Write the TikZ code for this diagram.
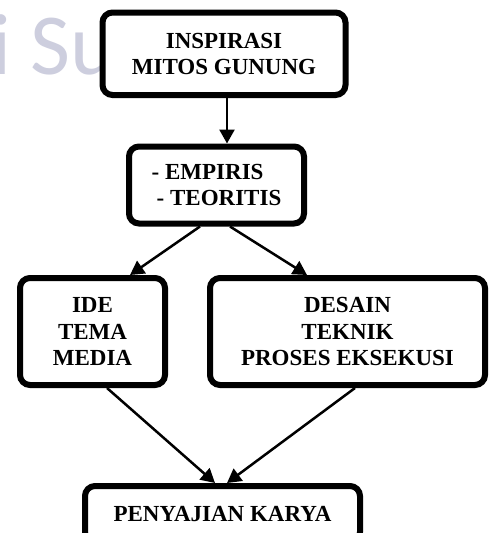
\documentclass[tikz,border=0pt]{standalone}
\usepackage{fontspec}
\setmainfont{Liberation Serif}
\newfontfamily\wmfont{Carlito}
\usetikzlibrary{arrows.meta}
\definecolor{wmgray}{RGB}{205,206,222}
\tikzset{
  boxstyle/.style={draw=black, fill=white, line width=6pt, rounded corners=10pt,
    inner sep=0pt, outer sep=3pt, align=center,
    font=\fontsize{23}{26.5}\selectfont\bfseries},
  arr/.style={line width=2.5pt, -{Triangle[width=15pt,length=14pt]}}
}
\begin{document}
\begin{tikzpicture}[x=1pt,y=-1pt]
\useasboundingbox (0,0) rectangle (489,533);
\clip (0,0) rectangle (489,533);
\node[anchor=base west, text=wmgray, font=\wmfont\fontsize{87}{87}\selectfont, inner sep=0pt] (wm) at (-9,74) {i Su};
\node[boxstyle, minimum width=243pt, minimum height=82.5pt] (b1) at (224,53.75) {INSPIRASI\\MITOS GUNUNG};
\node[boxstyle, minimum width=175pt, minimum height=77pt, align=left] (b2) at (216.5,185) {- EMPIRIS\\\hspace*{5pt}- TEORITIS};
\node[boxstyle, minimum width=145pt, minimum height=107pt] (b3) at (92.5,331.5) {IDE\\TEMA\\MEDIA};
\node[boxstyle, minimum width=275pt, minimum height=107pt] (b4) at (347.5,331.5) {DESAIN\\TEKNIK\\PROSES EKSEKUSI};
\node[boxstyle, minimum width=275pt, minimum height=56pt] (b5) at (222.5,514) {PENYAJIAN KARYA};
\draw[arr] ([xshift=3pt]b1.south) -- ([xshift=3pt]b1.south |- b2.north);
\draw[arr] ([xshift=-16.5pt]b2.south) -- ([xshift=37.5pt]b3.north);
\draw[arr] ([xshift=13.5pt]b2.south) -- ([xshift=-40.5pt]b4.north);
\draw[arr] ([xshift=14.5pt]b3.south) -- ([xshift=-7.5pt]b5.north);
\draw[arr] ([xshift=7.5pt]b4.south) -- ([xshift=4.5pt]b5.north);
\end{tikzpicture}
\end{document}
